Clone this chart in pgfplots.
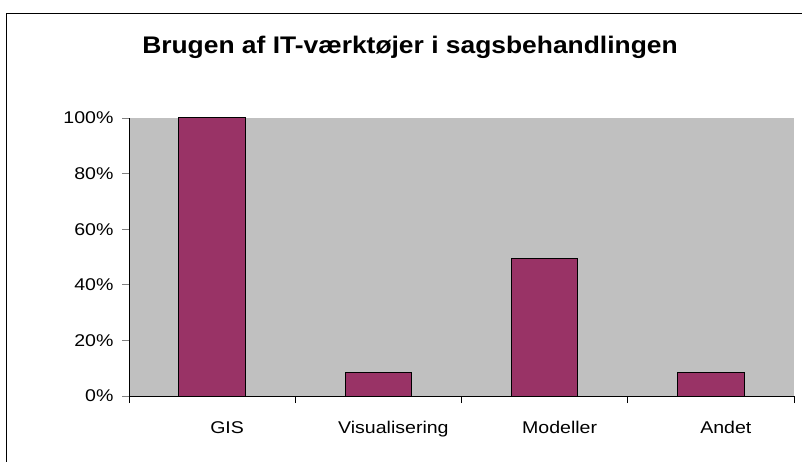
\documentclass[border=0pt]{standalone}
\usepackage{pgfplots}
\pgfplotsset{compat=1.18}
\usepackage{fontspec}
\setmainfont{Liberation Sans}
\newfontfamily\labelfont[FakeStretch=1.15]{Liberation Sans}
\newfontfamily\titlefont[FakeStretch=1.1]{Liberation Sans}
\definecolor{barcol}{HTML}{993366}
\definecolor{plotbg}{HTML}{C0C0C0}
\begin{document}
\begin{tikzpicture}[x=1pt,y=1pt]
\useasboundingbox (0,0) rectangle (802,461);
% outer frame (only left and top edges are inside the picture)
\draw[line width=1pt] (6,-10) -- (6,447) -- (812,447);
\node[anchor=base] at (410,407) {\titlefont\fontsize{24}{28}\selectfont\bfseries Brugen af IT-værktøjer i sagsbehandlingen};
\begin{axis}[
    at={(129pt,65pt)}, anchor=south west,
    scale only axis,
    width=665pt, height=278pt,
    ybar, bar width=0.4,
    xmin=-0.5, xmax=3.5,
    ymin=0, ymax=100,
    axis x line=bottom, axis y line=left,
    axis line style={-, line width=0.9pt},
    axis background/.style={fill=plotbg},
    xtick={0,1,2,3},
    xticklabels={GIS, Visualisering, Modeller, Andet},
    minor xtick={-0.5,0.5,1.5,2.5,3.5},
    ytick={0,20,40,60,80,100},
    yticklabels={0\%,20\%,40\%,60\%,80\%,100\%},
    tick align=outside,
    major tick length=7pt, minor tick length=7pt,
    x tick style={draw=none},
    minor x tick style={draw=black, line width=0.9pt},
    y tick style={line width=0.9pt},
    tick label style={font=\labelfont\fontsize{17}{20}\selectfont},
    xticklabel style={yshift=-15pt, xshift=15pt},
    yticklabel style={xshift=-5pt},
]
\addplot[fill=barcol, draw=black, line width=1pt] coordinates {(0,100) (1,8.3) (2,49.3) (3,8.3)};
\end{axis}
\end{tikzpicture}
\end{document}
